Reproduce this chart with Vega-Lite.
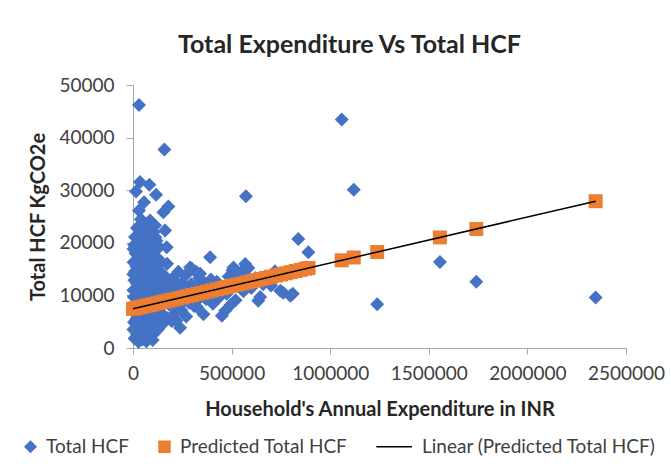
{
  "$schema": "https://vega.github.io/schema/vega-lite/v6.json",
  "autosize": {"type": "none"},
  "width": 493,
  "height": 263,
  "padding": {"left": 133, "top": 85, "right": 45, "bottom": 125},
  "background": "white",
  "title": {"text": "Total Expenditure Vs Total HCF", "fontSize": 25, "font": "Lato", "fontWeight": "bold", "color": "#262626", "anchor": "middle", "dx": -30, "offset": 18},
  "datasets": {
    "observed": [
      {"x": 8000, "y": 1800, "series": "Total HCF"}, {"x": 12000, "y": 3300, "series": "Total HCF"}, {"x": 5000, "y": 4900, "series": "Total HCF"}, {"x": 15000, "y": 6400, "series": "Total HCF"}, {"x": 9000, "y": 8100, "series": "Total HCF"}, {"x": 4000, "y": 9700, "series": "Total HCF"}, {"x": 14000, "y": 11200, "series": "Total HCF"}, {"x": 7000, "y": 12900, "series": "Total HCF"}, {"x": 11000, "y": 14600, "series": "Total HCF"}, {"x": 3000, "y": 16300, "series": "Total HCF"}, {"x": 13000, "y": 18000, "series": "Total HCF"}, {"x": 6000, "y": 19600, "series": "Total HCF"}, {"x": 10000, "y": 21100, "series": "Total HCF"}, {"x": 15200, "y": 29770, "series": "Total HCF"},
      {"x": 28000, "y": 1200, "series": "Total HCF"}, {"x": 32000, "y": 2700, "series": "Total HCF"}, {"x": 26000, "y": 4300, "series": "Total HCF"}, {"x": 35000, "y": 5800, "series": "Total HCF"}, {"x": 30000, "y": 7400, "series": "Total HCF"}, {"x": 27000, "y": 10200, "series": "Total HCF"}, {"x": 33000, "y": 11900, "series": "Total HCF"}, {"x": 29000, "y": 13500, "series": "Total HCF"}, {"x": 36000, "y": 15100, "series": "Total HCF"}, {"x": 25000, "y": 17700, "series": "Total HCF"}, {"x": 31000, "y": 19300, "series": "Total HCF"}, {"x": 34000, "y": 20800, "series": "Total HCF"}, {"x": 30500, "y": 26150, "series": "Total HCF"}, {"x": 35600, "y": 31550, "series": "Total HCF"}, {"x": 30500, "y": 46180, "series": "Total HCF"},
      {"x": 20000, "y": 22800, "series": "Total HCF"}, {"x": 40000, "y": 24500, "series": "Total HCF"}, {"x": 60000, "y": 23500, "series": "Total HCF"},
      {"x": 48000, "y": 1600, "series": "Total HCF"}, {"x": 52000, "y": 3100, "series": "Total HCF"}, {"x": 46000, "y": 4700, "series": "Total HCF"}, {"x": 55000, "y": 6200, "series": "Total HCF"}, {"x": 50000, "y": 9200, "series": "Total HCF"}, {"x": 47000, "y": 10800, "series": "Total HCF"}, {"x": 53000, "y": 12400, "series": "Total HCF"}, {"x": 49000, "y": 14000, "series": "Total HCF"}, {"x": 56000, "y": 15800, "series": "Total HCF"}, {"x": 51000, "y": 18300, "series": "Total HCF"}, {"x": 45000, "y": 20100, "series": "Total HCF"}, {"x": 54000, "y": 21600, "series": "Total HCF"}, {"x": 56000, "y": 27730, "series": "Total HCF"},
      {"x": 68000, "y": 1300, "series": "Total HCF"}, {"x": 72000, "y": 2900, "series": "Total HCF"}, {"x": 66000, "y": 4400, "series": "Total HCF"}, {"x": 75000, "y": 6000, "series": "Total HCF"}, {"x": 70000, "y": 8700, "series": "Total HCF"}, {"x": 67000, "y": 11300, "series": "Total HCF"}, {"x": 73000, "y": 13000, "series": "Total HCF"}, {"x": 69000, "y": 14700, "series": "Total HCF"}, {"x": 76000, "y": 16500, "series": "Total HCF"}, {"x": 71000, "y": 18800, "series": "Total HCF"}, {"x": 65000, "y": 19900, "series": "Total HCF"}, {"x": 74000, "y": 22000, "series": "Total HCF"}, {"x": 83000, "y": 31050, "series": "Total HCF"},
      {"x": 88000, "y": 2200, "series": "Total HCF"}, {"x": 92000, "y": 3800, "series": "Total HCF"}, {"x": 86000, "y": 5300, "series": "Total HCF"}, {"x": 95000, "y": 9500, "series": "Total HCF"}, {"x": 90000, "y": 11000, "series": "Total HCF"}, {"x": 87000, "y": 12600, "series": "Total HCF"}, {"x": 93000, "y": 14300, "series": "Total HCF"}, {"x": 89000, "y": 16000, "series": "Total HCF"}, {"x": 96000, "y": 17400, "series": "Total HCF"}, {"x": 91000, "y": 20500, "series": "Total HCF"}, {"x": 86400, "y": 24240, "series": "Total HCF"},
      {"x": 108000, "y": 2800, "series": "Total HCF"}, {"x": 112000, "y": 4500, "series": "Total HCF"}, {"x": 106000, "y": 6800, "series": "Total HCF"}, {"x": 115000, "y": 10400, "series": "Total HCF"}, {"x": 110000, "y": 12100, "series": "Total HCF"}, {"x": 107000, "y": 13700, "series": "Total HCF"}, {"x": 113000, "y": 15400, "series": "Total HCF"}, {"x": 109000, "y": 18600, "series": "Total HCF"}, {"x": 114000, "y": 21000, "series": "Total HCF"}, {"x": 112000, "y": 23280, "series": "Total HCF"}, {"x": 117000, "y": 29140, "series": "Total HCF"},
      {"x": 128000, "y": 3600, "series": "Total HCF"}, {"x": 132000, "y": 9000, "series": "Total HCF"}, {"x": 126000, "y": 11600, "series": "Total HCF"}, {"x": 135000, "y": 13300, "series": "Total HCF"}, {"x": 130000, "y": 14900, "series": "Total HCF"}, {"x": 127000, "y": 17000, "series": "Total HCF"}, {"x": 133000, "y": 19200, "series": "Total HCF"},
      {"x": 148000, "y": 4500, "series": "Total HCF"}, {"x": 152000, "y": 8200, "series": "Total HCF"}, {"x": 146000, "y": 10700, "series": "Total HCF"}, {"x": 155000, "y": 12300, "series": "Total HCF"}, {"x": 150000, "y": 14100, "series": "Total HCF"}, {"x": 154000, "y": 25820, "series": "Total HCF"}, {"x": 162600, "y": 22330, "series": "Total HCF"}, {"x": 159000, "y": 37730, "series": "Total HCF"},
      {"x": 172800, "y": 16030, "series": "Total HCF"}, {"x": 171000, "y": 19140, "series": "Total HCF"}, {"x": 179500, "y": 26900, "series": "Total HCF"}, {"x": 196600, "y": 5150, "series": "Total HCF"}, {"x": 172800, "y": 5720, "series": "Total HCF"}, {"x": 238800, "y": 3870, "series": "Total HCF"}, {"x": 180000, "y": 11800, "series": "Total HCF"}, {"x": 190000, "y": 9600, "series": "Total HCF"}, {"x": 200000, "y": 13200, "series": "Total HCF"},
      {"x": 20000, "y": 2500, "series": "Total HCF"}, {"x": 40000, "y": 3500, "series": "Total HCF"}, {"x": 60000, "y": 2000, "series": "Total HCF"}, {"x": 80000, "y": 4000, "series": "Total HCF"}, {"x": 100000, "y": 1500, "series": "Total HCF"}, {"x": 120000, "y": 5500, "series": "Total HCF"}, {"x": 140000, "y": 6500, "series": "Total HCF"}, {"x": 18000, "y": 5600, "series": "Total HCF"}, {"x": 38000, "y": 8500, "series": "Total HCF"}, {"x": 58000, "y": 7400, "series": "Total HCF"}, {"x": 78000, "y": 10000, "series": "Total HCF"}, {"x": 98000, "y": 7200, "series": "Total HCF"}, {"x": 118000, "y": 8300, "series": "Total HCF"}, {"x": 138000, "y": 7800, "series": "Total HCF"}, {"x": 22000, "y": 9000, "series": "Total HCF"}, {"x": 42000, "y": 12800, "series": "Total HCF"}, {"x": 62000, "y": 9900, "series": "Total HCF"}, {"x": 82000, "y": 13500, "series": "Total HCF"}, {"x": 102000, "y": 11300, "series": "Total HCF"}, {"x": 122000, "y": 14000, "series": "Total HCF"}, {"x": 142000, "y": 12000, "series": "Total HCF"}, {"x": 19000, "y": 12300, "series": "Total HCF"}, {"x": 39000, "y": 16500, "series": "Total HCF"}, {"x": 61000, "y": 13200, "series": "Total HCF"}, {"x": 81000, "y": 15200, "series": "Total HCF"}, {"x": 101000, "y": 16700, "series": "Total HCF"}, {"x": 121000, "y": 19000, "series": "Total HCF"}, {"x": 141000, "y": 16200, "series": "Total HCF"}, {"x": 17000, "y": 15500, "series": "Total HCF"}, {"x": 41000, "y": 18800, "series": "Total HCF"}, {"x": 59000, "y": 17200, "series": "Total HCF"}, {"x": 79000, "y": 17800, "series": "Total HCF"}, {"x": 99000, "y": 19400, "series": "Total HCF"}, {"x": 119000, "y": 20400, "series": "Total HCF"}, {"x": 24000, "y": 20000, "series": "Total HCF"}, {"x": 44000, "y": 22300, "series": "Total HCF"}, {"x": 64000, "y": 21000, "series": "Total HCF"}, {"x": 84000, "y": 21800, "series": "Total HCF"}, {"x": 104000, "y": 22000, "series": "Total HCF"}, {"x": 2000, "y": 3500, "series": "Total HCF"}, {"x": 1000, "y": 7800, "series": "Total HCF"}, {"x": 2000, "y": 11000, "series": "Total HCF"}, {"x": 1500, "y": 14000, "series": "Total HCF"}, {"x": 2500, "y": 18800, "series": "Total HCF"},
      {"x": 160000, "y": 6000, "series": "Total HCF"}, {"x": 165000, "y": 13500, "series": "Total HCF"}, {"x": 168000, "y": 10000, "series": "Total HCF"}, {"x": 185000, "y": 8200, "series": "Total HCF"}, {"x": 210000, "y": 6500, "series": "Total HCF"}, {"x": 220000, "y": 5200, "series": "Total HCF"}, {"x": 230000, "y": 14500, "series": "Total HCF"}, {"x": 250000, "y": 12400, "series": "Total HCF"}, {"x": 270000, "y": 6000, "series": "Total HCF"}, {"x": 300000, "y": 15000, "series": "Total HCF"}, {"x": 320000, "y": 14500, "series": "Total HCF"}, {"x": 330000, "y": 9200, "series": "Total HCF"}, {"x": 310000, "y": 8000, "series": "Total HCF"}, {"x": 280000, "y": 11500, "series": "Total HCF"}, {"x": 260000, "y": 9000, "series": "Total HCF"}, {"x": 240000, "y": 11000, "series": "Total HCF"},
      {"x": 205000, "y": 10500, "series": "Total HCF"}, {"x": 215000, "y": 8100, "series": "Total HCF"}, {"x": 225000, "y": 12000, "series": "Total HCF"}, {"x": 235000, "y": 9400, "series": "Total HCF"}, {"x": 245000, "y": 7200, "series": "Total HCF"}, {"x": 255000, "y": 11300, "series": "Total HCF"}, {"x": 265000, "y": 13800, "series": "Total HCF"}, {"x": 275000, "y": 10200, "series": "Total HCF"}, {"x": 285000, "y": 8600, "series": "Total HCF"}, {"x": 289600, "y": 15320, "series": "Total HCF"}, {"x": 295000, "y": 12100, "series": "Total HCF"}, {"x": 305000, "y": 9800, "series": "Total HCF"}, {"x": 315000, "y": 11700, "series": "Total HCF"}, {"x": 325000, "y": 7800, "series": "Total HCF"}, {"x": 335000, "y": 13300, "series": "Total HCF"}, {"x": 340000, "y": 14120, "series": "Total HCF"}, {"x": 345000, "y": 10600, "series": "Total HCF"}, {"x": 357200, "y": 6430, "series": "Total HCF"}, {"x": 360000, "y": 12400, "series": "Total HCF"}, {"x": 370000, "y": 9300, "series": "Total HCF"}, {"x": 380000, "y": 11200, "series": "Total HCF"}, {"x": 391000, "y": 17230, "series": "Total HCF"}, {"x": 395000, "y": 13000, "series": "Total HCF"}, {"x": 405000, "y": 8400, "series": "Total HCF"}, {"x": 415000, "y": 10900, "series": "Total HCF"}, {"x": 425000, "y": 12600, "series": "Total HCF"}, {"x": 435000, "y": 9600, "series": "Total HCF"}, {"x": 450700, "y": 6110, "series": "Total HCF"}, {"x": 455000, "y": 11500, "series": "Total HCF"}, {"x": 467500, "y": 7060, "series": "Total HCF"}, {"x": 475000, "y": 10300, "series": "Total HCF"}, {"x": 485000, "y": 13600, "series": "Total HCF"}, {"x": 495000, "y": 8200, "series": "Total HCF"}, {"x": 505000, "y": 14800, "series": "Total HCF"}, {"x": 509700, "y": 15320, "series": "Total HCF"}, {"x": 515000, "y": 12300, "series": "Total HCF"}, {"x": 520000, "y": 9100, "series": "Total HCF"}, {"x": 530000, "y": 13900, "series": "Total HCF"}, {"x": 540000, "y": 11700, "series": "Total HCF"}, {"x": 550000, "y": 14500, "series": "Total HCF"}, {"x": 560000, "y": 10800, "series": "Total HCF"}, {"x": 569000, "y": 15970, "series": "Total HCF"}, {"x": 575000, "y": 12900, "series": "Total HCF"}, {"x": 585000, "y": 15200, "series": "Total HCF"}, {"x": 600000, "y": 11400, "series": "Total HCF"}, {"x": 620000, "y": 13300, "series": "Total HCF"}, {"x": 635000, "y": 8970, "series": "Total HCF"}, {"x": 645000, "y": 9700, "series": "Total HCF"}, {"x": 660000, "y": 12100, "series": "Total HCF"}, {"x": 680000, "y": 13500, "series": "Total HCF"}, {"x": 700000, "y": 11900, "series": "Total HCF"}, {"x": 720000, "y": 14600, "series": "Total HCF"}, {"x": 747000, "y": 10900, "series": "Total HCF"}, {"x": 762000, "y": 10500, "series": "Total HCF"}, {"x": 780000, "y": 14200, "series": "Total HCF"}, {"x": 797800, "y": 9920, "series": "Total HCF"}, {"x": 810000, "y": 10300, "series": "Total HCF"}, {"x": 838000, "y": 20700, "series": "Total HCF"}, {"x": 889200, "y": 18190, "series": "Total HCF"},
      {"x": 572600, "y": 28870, "series": "Total HCF"}, {"x": 1058500, "y": 43450, "series": "Total HCF"}, {"x": 1119500, "y": 30090, "series": "Total HCF"}, {"x": 1238300, "y": 8340, "series": "Total HCF"}, {"x": 1556400, "y": 16350, "series": "Total HCF"}, {"x": 1741000, "y": 12600, "series": "Total HCF"}, {"x": 2346000, "y": 9600, "series": "Total HCF"}
    ],
    "predicted": [
      {"x": 0, "y": 7443, "series": "Predicted Total HCF"}, {"x": 10000, "y": 7530, "series": "Predicted Total HCF"}, {"x": 25000, "y": 7661, "series": "Predicted Total HCF"}, {"x": 40000, "y": 7792, "series": "Predicted Total HCF"}, {"x": 55000, "y": 7923, "series": "Predicted Total HCF"}, {"x": 70000, "y": 8054, "series": "Predicted Total HCF"}, {"x": 85000, "y": 8184, "series": "Predicted Total HCF"}, {"x": 100000, "y": 8315, "series": "Predicted Total HCF"}, {"x": 120000, "y": 8490, "series": "Predicted Total HCF"}, {"x": 140000, "y": 8664, "series": "Predicted Total HCF"}, {"x": 160000, "y": 8839, "series": "Predicted Total HCF"}, {"x": 180000, "y": 9013, "series": "Predicted Total HCF"}, {"x": 200000, "y": 9188, "series": "Predicted Total HCF"}, {"x": 225000, "y": 9406, "series": "Predicted Total HCF"}, {"x": 250000, "y": 9624, "series": "Predicted Total HCF"}, {"x": 275000, "y": 9842, "series": "Predicted Total HCF"}, {"x": 300000, "y": 10060, "series": "Predicted Total HCF"}, {"x": 325000, "y": 10278, "series": "Predicted Total HCF"}, {"x": 350000, "y": 10496, "series": "Predicted Total HCF"}, {"x": 375000, "y": 10714, "series": "Predicted Total HCF"}, {"x": 400000, "y": 10932, "series": "Predicted Total HCF"}, {"x": 425000, "y": 11150, "series": "Predicted Total HCF"}, {"x": 450000, "y": 11368, "series": "Predicted Total HCF"}, {"x": 475000, "y": 11586, "series": "Predicted Total HCF"}, {"x": 500000, "y": 11805, "series": "Predicted Total HCF"}, {"x": 525000, "y": 12023, "series": "Predicted Total HCF"}, {"x": 550000, "y": 12241, "series": "Predicted Total HCF"}, {"x": 575000, "y": 12459, "series": "Predicted Total HCF"}, {"x": 600000, "y": 12677, "series": "Predicted Total HCF"}, {"x": 625000, "y": 12895, "series": "Predicted Total HCF"}, {"x": 650000, "y": 13113, "series": "Predicted Total HCF"}, {"x": 675000, "y": 13331, "series": "Predicted Total HCF"}, {"x": 700000, "y": 13549, "series": "Predicted Total HCF"}, {"x": 725000, "y": 13767, "series": "Predicted Total HCF"}, {"x": 750000, "y": 13985, "series": "Predicted Total HCF"}, {"x": 775000, "y": 14203, "series": "Predicted Total HCF"}, {"x": 800000, "y": 14421, "series": "Predicted Total HCF"}, {"x": 825000, "y": 14639, "series": "Predicted Total HCF"}, {"x": 850000, "y": 14858, "series": "Predicted Total HCF"}, {"x": 875000, "y": 15076, "series": "Predicted Total HCF"}, {"x": 890000, "y": 15206, "series": "Predicted Total HCF"},
      {"x": 1058500, "y": 16676, "series": "Predicted Total HCF"}, {"x": 1119500, "y": 17208, "series": "Predicted Total HCF"}, {"x": 1238300, "y": 18245, "series": "Predicted Total HCF"}, {"x": 1556400, "y": 21019, "series": "Predicted Total HCF"}, {"x": 1741000, "y": 22630, "series": "Predicted Total HCF"}, {"x": 2346000, "y": 27907, "series": "Predicted Total HCF"}
    ],
    "trend": [
      {"x": 0, "y": 7443, "series": "Linear (Predicted Total HCF)"},
      {"x": 2346000, "y": 27907, "series": "Linear (Predicted Total HCF)"}
    ]
  },
  "layer": [
    {
      "data": {"name": "observed"},
      "mark": {"type": "point", "filled": true, "opacity": 1, "size": 196},
      "encoding": {
        "x": {"field": "x", "type": "quantitative", "scale": {"domain": [0, 2500000], "nice": false}, "axis": {"title": "Household's Annual Expenditure in INR", "values": [0, 500000, 1000000, 1500000, 2000000, 2500000], "format": "d", "grid": false, "labelOverlap": false, "labelFlush": false}},
        "y": {"field": "y", "type": "quantitative", "scale": {"domain": [0, 50000], "nice": false}, "axis": {"title": "Total HCF KgCO2e", "values": [0, 10000, 20000, 30000, 40000, 50000], "format": "d", "grid": false, "labelOverlap": false, "labelFlush": false}},
        "color": {"field": "series", "type": "nominal", "scale": {"domain": ["Total HCF", "Predicted Total HCF", "Linear (Predicted Total HCF)"], "range": ["#4472C4", "#ED7D31", "#000000"]}, "legend": {"title": null}},
        "shape": {"field": "series", "type": "nominal", "scale": {"domain": ["Total HCF", "Predicted Total HCF", "Linear (Predicted Total HCF)"], "range": ["diamond", "square", "M-5.5,0H1"]}, "legend": {"title": null}}
      }
    },
    {
      "data": {"name": "predicted"},
      "mark": {"type": "point", "filled": true, "opacity": 1, "size": 196},
      "encoding": {
        "x": {"field": "x", "type": "quantitative"},
        "y": {"field": "y", "type": "quantitative"},
        "color": {"field": "series", "type": "nominal"},
        "shape": {"field": "series", "type": "nominal"}
      }
    },
    {
      "data": {"name": "trend"},
      "mark": {"type": "line", "strokeWidth": 1.5},
      "encoding": {
        "x": {"field": "x", "type": "quantitative"},
        "y": {"field": "y", "type": "quantitative"},
        "color": {"field": "series", "type": "nominal"}
      }
    }
  ],
  "config": {
    "view": {"stroke": null},
    "axis": {"domainColor": "#A6A6A6", "tickColor": "#A6A6A6", "labelFont": "Lato", "labelFontSize": 19, "labelColor": "#404040", "titleFont": "Lato", "titleFontSize": 20, "titleFontWeight": "bold", "titleColor": "#262626"},
    "axisX": {"tickSize": 6, "labelPadding": 10, "titlePadding": 16},
    "axisY": {"tickSize": 7, "labelPadding": 12, "titlePadding": 10},
    "legend": {"orient": "none", "legendX": -112, "legendY": 352, "direction": "horizontal", "labelFont": "Lato", "labelFontSize": 19, "labelColor": "#404040", "labelLimit": 400, "symbolSize": 120, "labelOffset": 6, "columnPadding": 25, "symbolStrokeWidth": 1.5}
  }
}
